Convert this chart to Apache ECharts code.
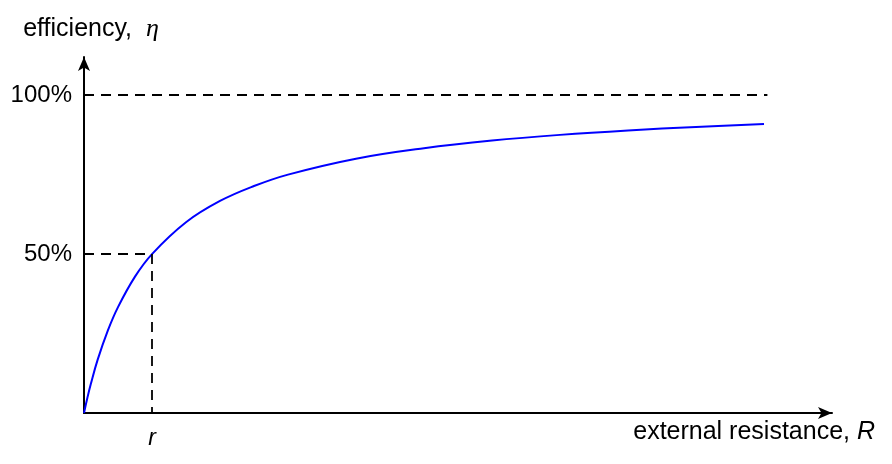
<!DOCTYPE html>
<html>
<head>
<meta charset="utf-8">
<script src="https://cdn.jsdelivr.net/npm/echarts@6/dist/echarts.min.js"></script>
<style>html,body{margin:0;padding:0;background:#fff}#c{width:892px;height:464px}</style>
</head>
<body>
<div id="c"></div>
<script>
// External resistance R (in units of internal resistance r)
var resistance = [0, 0.05, 0.1, 0.2, 0.35, 0.5, 0.75, 1, 1.5, 2, 2.5, 3, 4, 5, 6, 7, 8, 9, 10];
// Efficiency (%)
var efficiency = [0, 4.8, 9.1, 16.7, 25.9, 33.3, 42.9, 50, 60, 66.7, 71.4, 75, 80, 83.3, 85.7, 87.5, 88.9, 90, 90.9];
var yTickLabels = {50: '50%', 100: '100%'};
var xTickLabels = {1: 'r'};
var guideR = 1, guideEta = 50, fullEta = 100, fullLineEnd = 10.05;

var chart = echarts.init(document.getElementById('c'), null, {renderer: 'canvas'});
var font = 'Liberation Sans, Arial, sans-serif';
chart.setOption({
  animation: false,
  backgroundColor: '#fff',
  grid: {left: 84, right: 60, top: 57, bottom: 51},
  xAxis: {
    type: 'value', min: 0, max: 11, interval: 1,
    axisLine: {show: true, symbol: ['none', 'arrow'], symbolSize: [9, 14], lineStyle: {color: '#000', width: 2}},
    axisTick: {show: false},
    splitLine: {show: false},
    axisLabel: {
      formatter: function (v) { return xTickLabels[v] || ''; },
      color: '#000', fontSize: 23, fontStyle: 'italic', fontFamily: font, margin: 14
    },
    name: 'external resistance, {i|R}',
    nameLocation: 'end', nameGap: 43,
    nameTextStyle: {
      color: '#000', fontSize: 25, fontFamily: font, align: 'right', verticalAlign: 'top',
      padding: [7, 0, 0, 0],
      rich: {i: {fontStyle: 'italic', fontSize: 25, fontFamily: font, color: '#000'}}
    }
  },
  yAxis: {
    type: 'value', min: 0, max: 112, interval: 50,
    axisLine: {show: true, symbol: ['none', 'arrow'], symbolSize: [9, 14], lineStyle: {color: '#000', width: 2}},
    axisTick: {show: false},
    splitLine: {show: false},
    axisLabel: {
      formatter: function (v) { return yTickLabels[v] || ''; },
      color: '#000', fontSize: 24, fontFamily: font, margin: 12
    },
    name: 'efficiency,  {e|η}',
    nameLocation: 'end', nameGap: 15,
    nameTextStyle: {
      color: '#000', fontSize: 25, fontFamily: font, align: 'center',
      padding: [0, 0, 0, 14],
      rich: {e: {fontStyle: 'italic', fontSize: 26, fontFamily: 'Liberation Serif, Times New Roman, serif', color: '#000'}}
    }
  },
  series: [{
    type: 'line',
    data: resistance.map(function (r, i) { return [r, efficiency[i]]; }),
    smooth: 0.4,
    showSymbol: false,
    lineStyle: {color: '#0000ff', width: 2},
    markLine: {
      silent: true,
      symbol: ['none', 'none'],
      label: {show: false},
      emphasis: {disabled: true},
      lineStyle: {color: '#000', width: 1.8, type: [10, 7], opacity: 1},
      data: [
        [{coord: [0, fullEta]}, {coord: [fullLineEnd, fullEta]}],
        [{coord: [0, guideEta]}, {coord: [guideR, guideEta]}],
        [{coord: [guideR, guideEta]}, {coord: [guideR, 0]}]
      ]
    }
  }]
});
</script>
</body>
</html>
